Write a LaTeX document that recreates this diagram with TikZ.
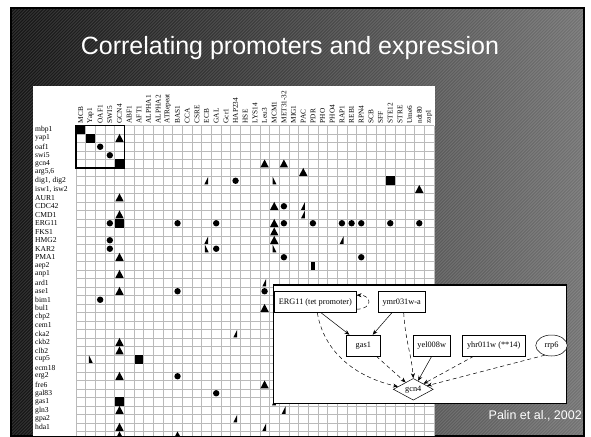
\documentclass[tikz,border=0pt]{standalone}
\usepackage{fontspec}
\setmainfont{Liberation Serif}
\newfontfamily\sansf{Liberation Sans}
\usetikzlibrary{arrows.meta,shapes.geometric}

\newcommand\colx[1]{76+9.67*(#1+0.5)}
\newcommand\rowy[1]{125.5+8.5*(#1+0.5)}
\newcommand\MCir[2]{\fill ({\colx{#1}},{\rowy{#2}}) circle (3.2pt);}
\newcommand\MTri[2]{\fill[shift={({\colx{#1}},{\rowy{#2}})}] (-4.2,3.7) -- (4.2,3.7) -- (0,-4.3) -- cycle;}
\newcommand\MSq[2]{\fill[shift={({\colx{#1}},{\rowy{#2}})}] (-4.3,-4.3) rectangle (4.3,4.3);}
\newcommand\MWr[2]{\fill[shift={({\colx{#1}},{\rowy{#2}})}] (1.6,-4) -- (1.6,3.6) -- (-2.2,3.6) -- cycle;}
\newcommand\MWl[2]{\fill[shift={({\colx{#1}},{\rowy{#2}})}] (-1.6,-4) -- (-1.6,3.6) -- (2.2,3.6) -- cycle;}

\tikzset{
  gridl/.style={draw=black!27, line width=0.45pt},
  stripe/.style={draw=white, opacity=0.13, line width=0.9pt},
  collab/.style={rotate=90, anchor=west, inner sep=0pt, font=\fontsize{7.3}{8}\selectfont},
  rowlab/.style={anchor=west, inner sep=0pt, font=\fontsize{7.6}{8}\selectfont},
  gbox/.style={draw, rectangle, line width=0.5pt, inner sep=0pt, fill=white, font=\fontsize{8.3}{9}\selectfont},
  garr/.style={line width=0.5pt, -{Stealth[length=5pt,width=4pt]}},
  gdash/.style={garr, dash pattern=on 4pt off 3pt},
}

\begin{document}
\begin{tikzpicture}[x=1pt,y=-1pt]
\useasboundingbox (0,0) rectangle (591,436);
\fill[white] (0,0) rectangle (591,436);
% slide background
\shade[left color=black!92, right color=black!55] (11,8) rectangle (584,436);
\begin{scope}
  \clip (11,8) rectangle (584,436);
  \foreach \a in {-430,-426.8,...,590} \draw[stripe] (\a,436) -- ({\a+428},8);
\end{scope}
\draw[black, line width=1.5pt] (11,8) rectangle (584,436);

% title
\node[anchor=base, text=white, font=\sansf\fontsize{25}{30}\selectfont, inner sep=0pt] (title) at (290,55) {Correlating promoters and expression};

% white panel
\fill[white] (33,86) rectangle (434.5,436);

% grid
\foreach \k in {0,...,37} \draw[gridl] ({76+9.67*\k},125.5) -- ({76+9.67*\k},436);
\foreach \j in {0,...,36} \draw[gridl] (76,{125.5+8.5*\j}) -- (433.8,{125.5+8.5*\j});
\draw[line width=1.3pt] (76,125.5) rectangle (124.35,168);

% column labels
\foreach \lab [count=\i from 0] in {MCB,Yap1,OAF1,SWI5,GCN4,ABF1,AFT1,ALPHA1,ALPHA2,ATRepeat,BAS1,CCA,CSRE,ECB,GAL,Gcr1,HAP234,HSE,LYS14,Leu3,MCM1,MET31-32,MIG1,PAC,PDR,PHO,PHO4,RAP1,REB1,RPN4,SCB,SFF,STE12,STRE,Ume6,ndt80,zap1}
  \node[collab] (c\i) at ({\colx{\i}},123.5) {\lab};

% row labels
\foreach \lab [count=\j from 0] in {mbp1,yap1,oaf1,swi5,gcn4,{arg5,6},{dig1, dig2},{isw1, isw2},AUR1,CDC42,CMD1,ERG11,FKS1,HMG2,KAR2,PMA1,aep2,anp1,ard1,ase1,bim1,bul1,cbp2,cem1,cka2,ckb2,clb2,cup5,ecm18,erg2,fre6,gal83,gas1,gln3,gpa2,hda1}
  \node[rowlab] (r\j) at (35,{\rowy{\j}}) {\lab};

% markers
\MSq{0}{0} \MSq{1}{1} \MSq{4}{4} \MSq{32}{6} \MSq{4}{11} \MSq{6}{27} \MSq{4}{32}
\MCir{2}{2} \MCir{3}{3} \MCir{16}{6} \MCir{21}{9} \MCir{3}{11} \MCir{10}{11} \MCir{14}{11}
\MCir{21}{11} \MCir{24}{11} \MCir{27}{11} \MCir{28}{11} \MCir{29}{11} \MCir{32}{11} \MCir{35}{11}
\MCir{3}{13} \MCir{3}{14} \MCir{14}{14} \MCir{21}{15} \MCir{29}{15} \MCir{10}{19} \MCir{19}{19}
\MCir{2}{20} \MCir{10}{29} \MCir{14}{31}
\MTri{4}{1} \MTri{19}{4} \MTri{21}{4} \MTri{23}{5} \MTri{35}{7} \MTri{4}{8} \MTri{20}{9}
\MTri{4}{10} \MTri{20}{11} \MTri{20}{12} \MTri{20}{13} \MTri{4}{15} \MTri{4}{17} \MTri{4}{19}
\MTri{19}{21} \MTri{4}{25} \MTri{4}{26} \MTri{4}{29} \MTri{19}{30} \MTri{4}{33} \MTri{4}{35}
\MTri{4}{36} \MTri{10}{36}
\MWr{13}{6} \MWr{23}{9} \MWr{23}{10} \MWr{13}{13} \MWr{27}{13} \MWr{19}{18} \MWr{16}{24}
\MWr{20}{32} \MWr{21}{33} \MWr{16}{34} \MWr{19}{35}
\MWl{20}{6} \MWl{13}{14} \MWl{20}{14} \MWl{1}{27}
\fill ({\colx{24}-1.6},{\rowy{16}-4.2}) rectangle ({\colx{24}+1.6},{\rowy{16}+4.2});

% inset network
\filldraw[fill=white, draw=black, line width=1.7pt] (273.5,285) rectangle (566.5,403.5);
\node[gbox, minimum width=82pt, minimum height=21pt] (erg) at (315.3,302.2) {ERG11 (tet promoter)};
\node[gbox, minimum width=46.7pt, minimum height=21pt] (ymr) at (401.7,302.2) {ymr031w-a};
\node[gbox, minimum width=33.3pt, minimum height=21pt] (gas) at (363.3,345.5) {gas1};
\node[gbox, minimum width=36.7pt, minimum height=21pt] (yel) at (431.7,345.5) {yel008w};
\node[gbox, minimum width=62.7pt, minimum height=21pt] (yhr) at (493.7,345.5) {yhr011w (**14)};
\node[gbox, ellipse, minimum width=31.5pt, minimum height=21pt] (rrp) at (551.5,345.5) {rrp6};
\node[gbox, diamond, shape aspect=1.9, minimum width=40pt, minimum height=21.7pt] (gcn) at (413.3,389.3) {gcn4};

\draw[garr] ([xshift=6pt]erg.south) -- (gas);
\draw[garr] ([xshift=-10pt]ymr.south) -- (gas);
\draw[gdash] ([xshift=2pt]erg.south) .. controls +(8,45) and +(-35,-8) .. (gcn.170);
\draw[gdash] ([xshift=13pt]gas.south) -- (gcn);
\draw[gdash] ([xshift=2pt]ymr.south) .. controls +(2,30) and +(-2,-25) .. (gcn.north);
\draw[garr] (yel.south) -- (gcn);
\draw[gdash] ([xshift=-20pt]yhr.south) -- (gcn);
\draw[gdash] (rrp.235) -- (gcn);
\draw[gdash] ([yshift=-7pt]erg.east) .. controls +(16,0) and +(16,0) .. ([yshift=7pt]erg.east);

% citation
\node[anchor=base east, text=white, font=\sansf\fontsize{12.5}{14}\selectfont, inner sep=0pt] (cite) at (582,419) {Palin et al., 2002};
\end{tikzpicture}
\end{document}
